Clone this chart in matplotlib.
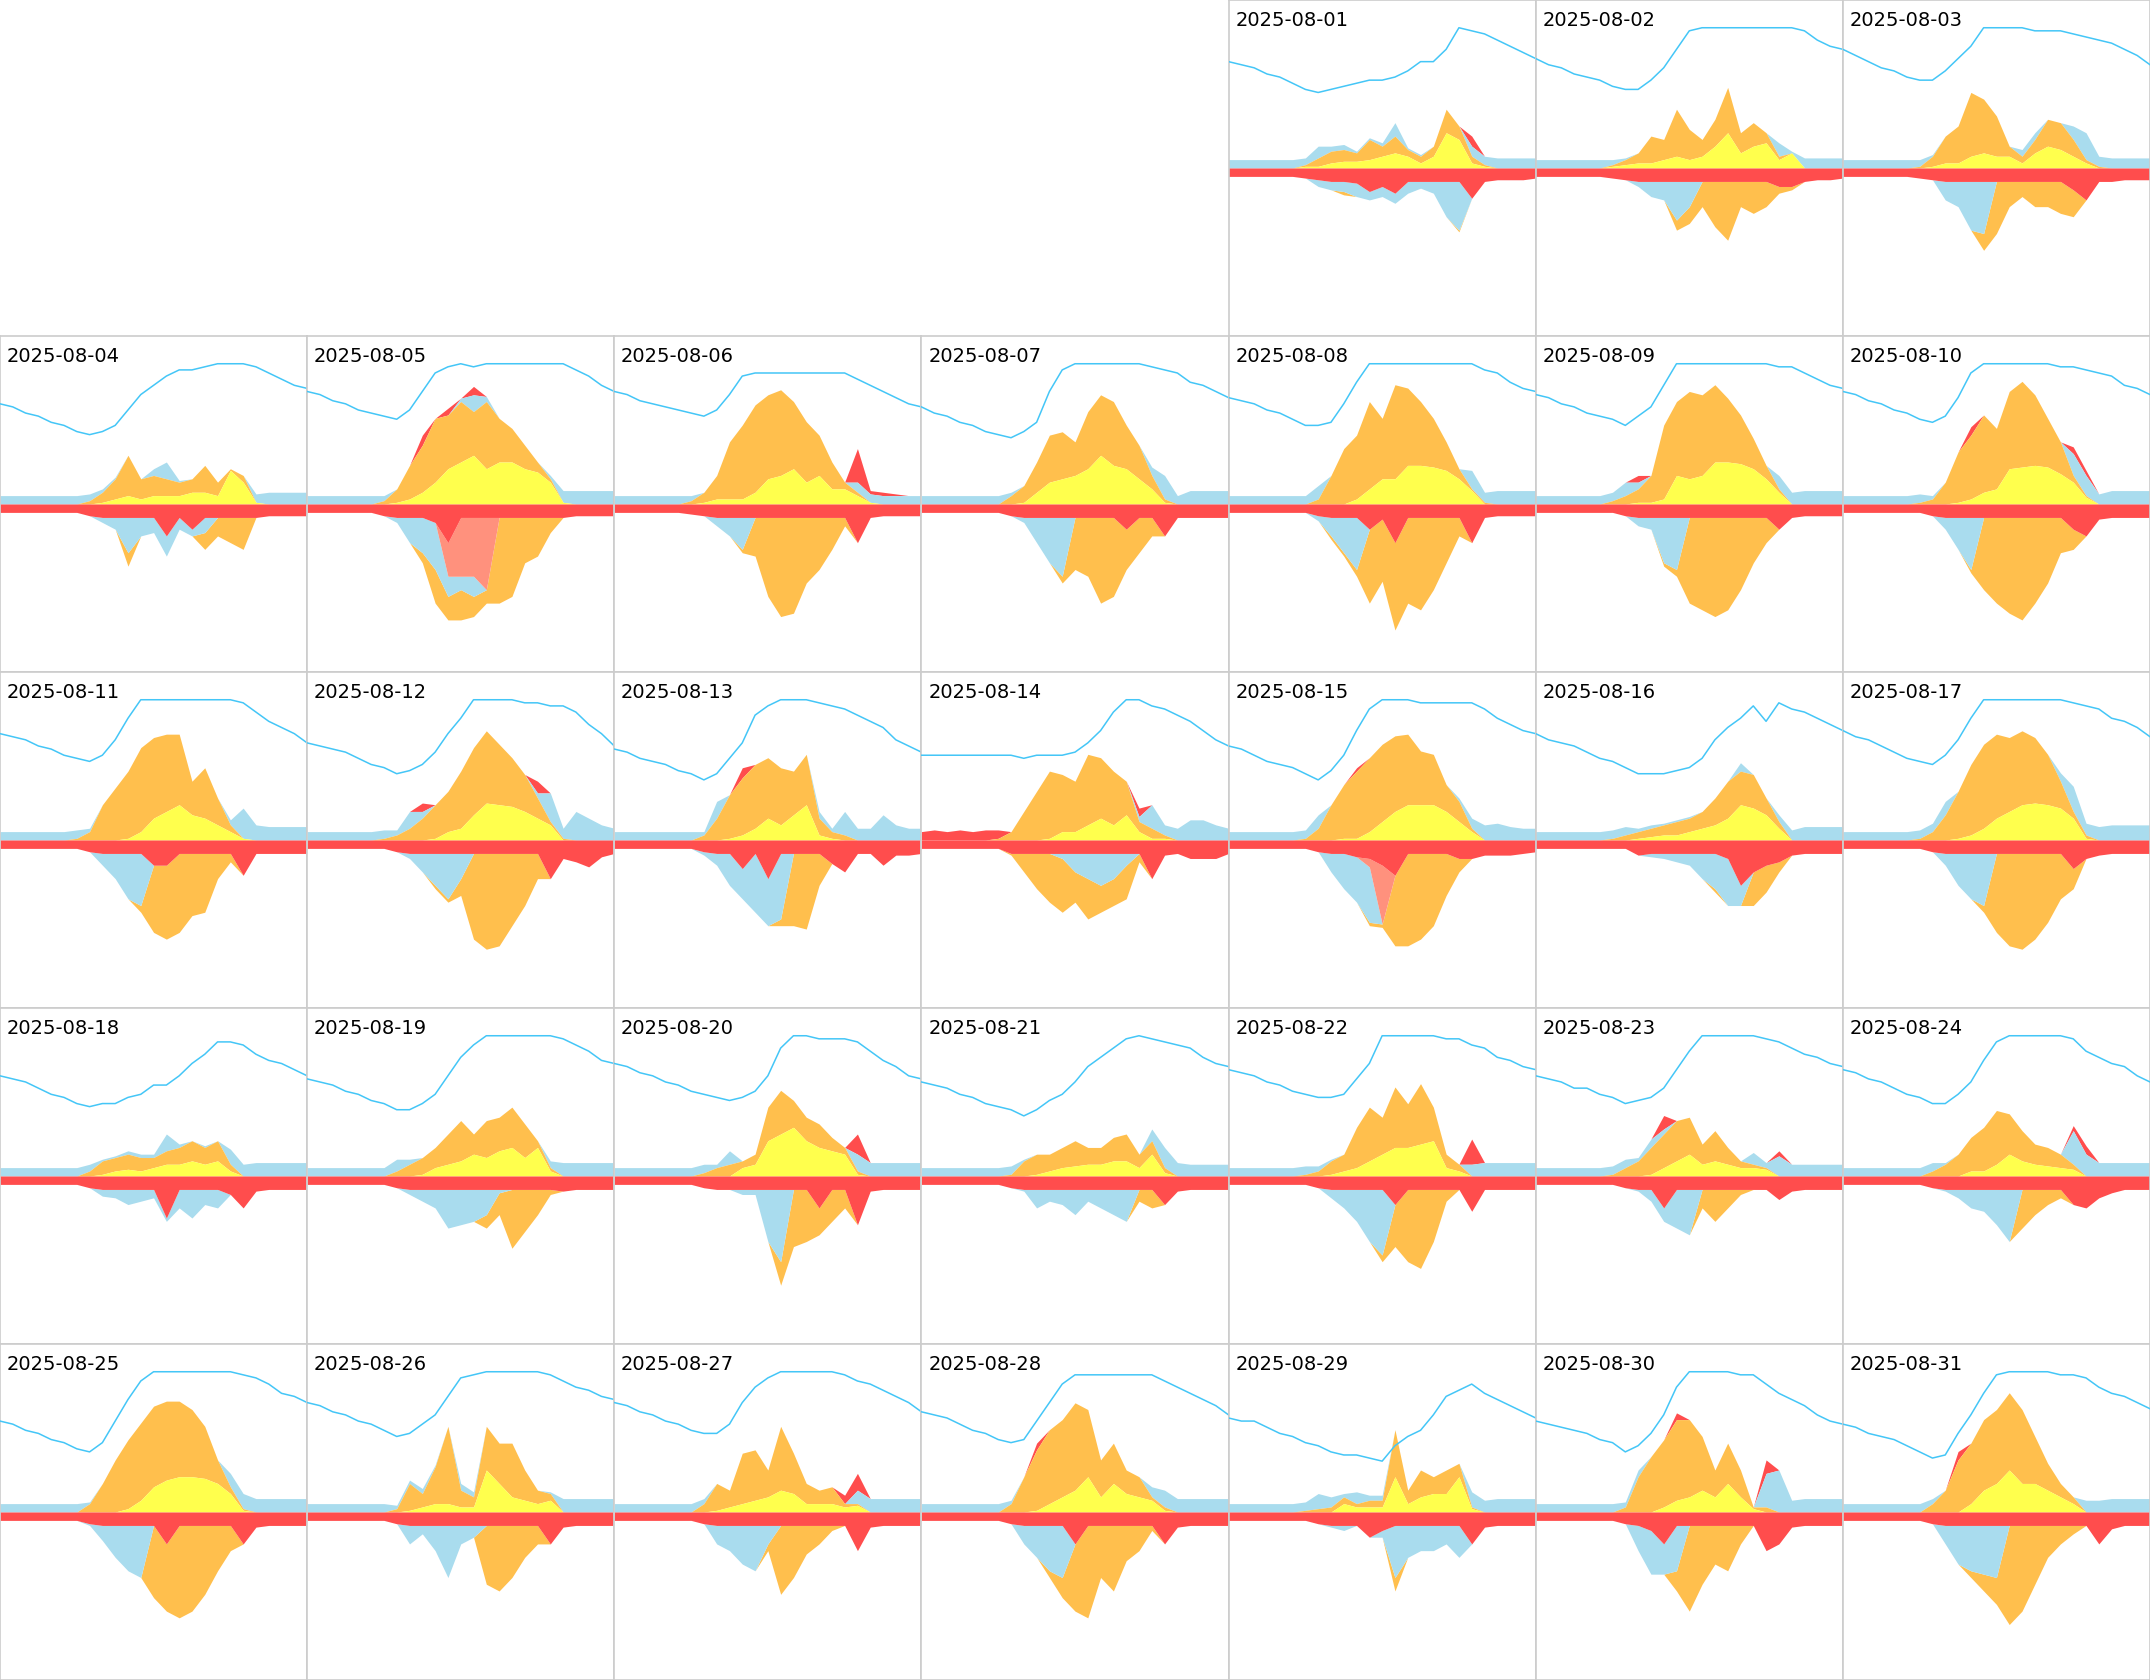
import numpy as np
import matplotlib
matplotlib.use("Agg")
import matplotlib.pyplot as plt

# Daily energy flow panels, August 2025 (hourly readings, 0..24 h)
dates = [f"2025-08-{d:02d}" for d in range(1, 32)]

# battery state of charge (%) at each hour 0..24
soc = [
    [89, 88, 87, 85, 84, 82, 80, 79, 80, 81, 82, 83, 83, 84, 86, 89, 89, 93, 100, 99, 98, 96, 94, 92, 90],
    [90, 88, 87, 85, 84, 83, 81, 80, 80, 83, 87, 93, 99, 100, 100, 100, 100, 100, 100, 100, 100, 99, 96, 94, 93],
    [93, 91, 89, 87, 86, 84, 83, 83, 86, 90, 94, 100, 100, 100, 100, 99, 99, 99, 98, 97, 96, 95, 93, 91, 88],
    [87, 86, 84, 83, 81, 80, 78, 77, 78, 80, 85, 90, 93, 96, 98, 98, 99, 100, 100, 100, 99, 97, 95, 93, 92],
    [91, 90, 88, 87, 85, 84, 83, 82, 85, 91, 97, 99, 100, 99, 100, 100, 100, 100, 100, 100, 100, 98, 96, 93, 91],
    [91, 90, 88, 87, 86, 85, 84, 83, 85, 90, 96, 97, 97, 97, 97, 97, 97, 97, 97, 95, 93, 91, 89, 87, 86],
    [86, 84, 83, 81, 80, 78, 77, 76, 78, 81, 91, 98, 100, 100, 100, 100, 100, 100, 99, 98, 97, 94, 93, 91, 89],
    [89, 88, 87, 85, 84, 82, 80, 80, 81, 87, 94, 100, 100, 100, 100, 100, 100, 100, 100, 100, 98, 97, 94, 92, 91],
    [90, 89, 87, 86, 84, 83, 82, 80, 83, 86, 93, 100, 100, 100, 100, 100, 100, 100, 100, 99, 99, 97, 95, 93, 92],
    [91, 90, 88, 87, 85, 84, 82, 81, 83, 89, 97, 100, 100, 100, 100, 100, 100, 99, 99, 98, 97, 96, 93, 92, 90],
    [89, 88, 87, 85, 84, 82, 81, 80, 82, 87, 94, 100, 100, 100, 100, 100, 100, 100, 100, 99, 96, 93, 91, 89, 86],
    [86, 85, 84, 83, 81, 79, 78, 76, 77, 79, 83, 89, 94, 100, 100, 100, 100, 99, 99, 98, 98, 96, 92, 89, 85],
    [84, 83, 81, 80, 79, 77, 76, 74, 76, 81, 86, 95, 98, 100, 100, 100, 99, 98, 97, 95, 93, 91, 87, 85, 83],
    [82, 82, 82, 82, 82, 82, 82, 82, 81, 82, 82, 82, 83, 86, 90, 96, 100, 100, 98, 97, 95, 93, 90, 87, 85],
    [85, 84, 82, 80, 79, 78, 76, 74, 77, 82, 90, 97, 100, 100, 100, 99, 99, 99, 99, 99, 97, 94, 92, 90, 89],
    [89, 87, 86, 85, 83, 81, 80, 78, 76, 76, 76, 77, 78, 81, 87, 91, 94, 98, 93, 99, 97, 96, 94, 92, 90],
    [90, 88, 87, 85, 83, 81, 80, 79, 82, 87, 94, 100, 100, 100, 100, 100, 100, 100, 99, 98, 97, 94, 93, 91, 88],
    [87, 86, 85, 83, 81, 80, 78, 77, 78, 78, 80, 81, 84, 84, 87, 91, 94, 98, 98, 97, 94, 92, 91, 89, 87],
    [86, 85, 84, 82, 81, 79, 78, 76, 76, 78, 81, 87, 93, 97, 100, 100, 100, 100, 100, 100, 99, 97, 95, 92, 91],
    [91, 90, 88, 87, 85, 84, 82, 81, 80, 79, 80, 82, 87, 96, 100, 100, 99, 99, 99, 98, 95, 92, 90, 87, 86],
    [85, 84, 83, 81, 80, 78, 77, 76, 74, 76, 79, 81, 85, 90, 93, 96, 99, 100, 99, 98, 97, 96, 93, 91, 90],
    [89, 88, 87, 85, 84, 82, 81, 80, 80, 81, 86, 91, 100, 100, 100, 100, 100, 99, 99, 97, 96, 93, 92, 90, 89],
    [87, 86, 85, 83, 83, 81, 80, 78, 79, 80, 83, 89, 95, 100, 100, 100, 100, 100, 99, 98, 96, 94, 93, 91, 90],
    [89, 88, 86, 85, 83, 81, 80, 78, 78, 81, 85, 92, 98, 100, 100, 100, 100, 100, 99, 95, 93, 91, 90, 87, 85],
    [84, 83, 81, 80, 78, 77, 75, 74, 77, 84, 91, 97, 100, 100, 100, 100, 100, 100, 100, 99, 98, 96, 93, 92, 90],
    [90, 89, 87, 86, 84, 83, 81, 79, 80, 83, 86, 92, 98, 99, 100, 100, 100, 100, 100, 99, 97, 95, 94, 92, 91],
    [90, 89, 87, 86, 84, 83, 81, 80, 80, 83, 90, 95, 98, 100, 100, 100, 100, 100, 99, 97, 96, 94, 92, 90, 87],
    [87, 86, 85, 83, 81, 80, 78, 77, 78, 84, 90, 96, 99, 99, 99, 99, 99, 99, 99, 97, 95, 93, 91, 89, 86],
    [85, 84, 84, 82, 80, 79, 77, 76, 74, 73, 73, 72, 71, 76, 79, 81, 86, 92, 94, 96, 93, 91, 89, 87, 85],
    [84, 83, 82, 81, 80, 78, 77, 74, 76, 80, 86, 95, 100, 100, 100, 100, 99, 99, 96, 93, 91, 89, 86, 84, 83],
    [83, 82, 80, 79, 78, 76, 74, 72, 73, 80, 86, 93, 99, 100, 100, 100, 100, 99, 99, 98, 95, 93, 92, 90, 88],
]

# solar string 1 (yellow), kW, hours 5..21
pv_west = [
    [0, 0.1, 0.1, 0.3, 0.4, 0.4, 0.5, 0.7, 0.9, 0.7, 0.3, 0.7, 2.1, 1.7, 0.3, 0.1, 0],
    [0, 0.1, 0.2, 0.3, 0.3, 0.5, 0.7, 0.5, 0.7, 1.3, 2.1, 0.9, 1.3, 1.5, 0.5, 0.9, 0],
    [0, 0, 0.1, 0.3, 0.3, 0.7, 0.9, 0.7, 0.7, 0.3, 0.9, 1.3, 1.1, 0.7, 0.3, 0, 0],
    [0, 0, 0, 0.1, 0.3, 0.5, 0.3, 0.5, 0.5, 0.5, 0.7, 0.7, 0.5, 2.0, 1.3, 0.1, 0],
    [0, 0, 0.1, 0.3, 0.7, 1.3, 2.1, 2.5, 2.9, 2.1, 2.5, 2.5, 2.1, 1.9, 1.3, 0.1, 0],
    [0, 0, 0.1, 0.3, 0.3, 0.3, 0.7, 1.5, 1.7, 2.1, 1.3, 1.7, 0.9, 0.9, 0.5, 0.1, 0],
    [0, 0, 0, 0.1, 0.7, 1.3, 1.5, 1.7, 2.1, 2.9, 2.3, 2.1, 1.5, 0.9, 0.1, 0, 0],
    [0, 0, 0, 0, 0, 0.3, 0.9, 1.5, 1.5, 2.3, 2.3, 2.2, 2.0, 1.5, 0.8, 0, 0],
    [0, 0, 0, 0.1, 0.1, 0.3, 1.7, 1.5, 1.7, 2.5, 2.5, 2.4, 2.1, 1.5, 0.7, 0, 0],
    [0, 0, 0, 0, 0.1, 0.3, 0.7, 0.9, 2.1, 2.2, 2.3, 2.2, 1.8, 1.3, 0.4, 0, 0],
    [0, 0, 0, 0, 0, 0.1, 0.5, 1.3, 1.7, 2.1, 1.5, 1.3, 0.9, 0.5, 0.1, 0, 0],
    [0, 0, 0, 0, 0, 0.1, 0.5, 0.7, 1.5, 2.2, 2.1, 2.0, 1.7, 1.3, 0.9, 0, 0],
    [0, 0, 0, 0, 0.1, 0.3, 0.7, 1.3, 0.9, 1.5, 2.1, 0.3, 0.1, 0, 0, 0, 0],
    [0, 0, 0, 0, 0, 0.1, 0.5, 0.5, 0.9, 1.3, 0.9, 1.5, 0.5, 0.1, 0.1, 0, 0],
    [0, 0, 0, 0, 0.1, 0.1, 0.5, 1.1, 1.7, 2.1, 2.1, 2.1, 1.7, 1.1, 0.5, 0, 0],
    [0, 0, 0, 0.1, 0.2, 0.3, 0.3, 0.5, 0.7, 0.9, 1.3, 2.1, 1.9, 1.5, 0.7, 0, 0],
    [0, 0, 0, 0, 0.1, 0.3, 0.7, 1.3, 1.7, 2.1, 2.2, 2.1, 1.9, 1.3, 0.1, 0, 0],
    [0, 0, 0, 0.1, 0.3, 0.4, 0.3, 0.5, 0.7, 0.7, 0.9, 0.7, 0.9, 0.3, 0, 0, 0],
    [0, 0, 0, 0, 0.1, 0.5, 0.7, 0.9, 1.3, 1.1, 1.5, 1.7, 1.1, 1.7, 0.3, 0, 0],
    [0, 0, 0, 0, 0, 0.5, 0.7, 2.1, 2.5, 2.9, 2.1, 1.7, 1.5, 1.3, 0.1, 0, 0],
    [0, 0, 0, 0, 0.1, 0.3, 0.5, 0.6, 0.7, 0.7, 0.9, 0.9, 0.5, 1.3, 0.2, 0, 0],
    [0, 0, 0, 0.1, 0.3, 0.5, 0.9, 1.3, 1.7, 1.7, 1.9, 2.1, 0.5, 0.3, 0, 0, 0],
    [0, 0, 0, 0, 0.1, 0.5, 0.9, 1.3, 0.7, 0.9, 0.7, 0.5, 0.5, 0.4, 0, 0, 0],
    [0, 0, 0, 0, 0, 0.3, 0.3, 0.7, 1.3, 0.9, 0.7, 0.6, 0.5, 0.4, 0, 0, 0],
    [0, 0, 0, 0, 0, 0.2, 0.7, 1.5, 1.9, 2.1, 2.1, 2.0, 1.7, 1.1, 0.1, 0, 0],
    [0, 0, 0, 0.1, 0.3, 0.5, 0.5, 0.3, 0.3, 2.5, 1.7, 0.9, 0.7, 0.5, 0.7, 0, 0],
    [0, 0, 0, 0.1, 0.3, 0.5, 0.7, 0.9, 1.3, 1.1, 0.5, 0.5, 0.5, 0.3, 0.4, 0, 0],
    [0, 0, 0, 0, 0.1, 0.5, 0.9, 1.3, 2.1, 0.9, 1.7, 1.1, 0.9, 0.7, 0.1, 0, 0],
    [0, 0, 0, 0, 0.5, 0.3, 0.3, 0.3, 2.1, 0.5, 0.9, 1.1, 1.1, 2.1, 0.2, 0, 0],
    [0, 0, 0, 0, 0, 0.3, 0.7, 0.9, 1.3, 0.9, 1.7, 0.9, 0.2, 0, 0, 0, 0],
    [0, 0, 0, 0, 0, 0.5, 1.3, 1.7, 2.5, 1.7, 1.7, 1.3, 0.9, 0.5, 0, 0, 0],
]

# solar string 2 (orange), kW, hours 5..21
pv_east = [
    [0, 0.1, 0.5, 0.7, 0.7, 0.5, 1.2, 0.6, 1.0, 0.4, 0.4, 0.6, 1.4, 0.8, 0.4, 0.1, 0],
    [0, 0.1, 0.3, 0.6, 1.6, 1.2, 2.8, 1.8, 1.0, 1.6, 2.7, 1.2, 1.4, 0.6, 0.2, 0, 0],
    [0, 0.1, 0.6, 1.6, 2.2, 3.8, 3.2, 2.4, 0.6, 0.4, 0.8, 1.6, 1.6, 1.0, 0.2, 0.1, 0],
    [0, 0, 0.2, 0.6, 1.2, 2.4, 1.2, 1.2, 1.0, 0.8, 0.8, 1.6, 0.8, 0.1, 0.4, 0, 0],
    [0, 0.2, 0.8, 2.0, 2.8, 3.8, 3.2, 3.6, 2.6, 4.0, 2.6, 2.0, 1.4, 0.6, 0.2, 0, 0],
    [0, 0.2, 0.6, 1.4, 3.4, 4.4, 5.2, 5.0, 5.1, 4.0, 3.6, 2.4, 1.6, 0.4, 0.2, 0, 0],
    [0, 0, 0.5, 1.0, 1.8, 2.8, 2.8, 2.0, 3.4, 3.6, 3.8, 2.6, 2.0, 0.8, 0.2, 0, 0],
    [0, 0, 0.3, 1.7, 3.3, 3.8, 5.2, 3.6, 5.6, 4.6, 3.8, 2.9, 1.7, 0.6, 0.1, 0.1, 0],
    [0, 0.2, 0.5, 0.8, 1.6, 4.4, 4.4, 5.2, 4.8, 4.6, 3.8, 2.9, 1.8, 0.8, 0.2, 0, 0],
    [0, 0.1, 0.3, 1.3, 3.0, 3.8, 4.6, 3.6, 4.6, 5.1, 4.2, 2.9, 1.9, 0.4, 0.1, 0, 0],
    [0, 0.1, 0.5, 2.1, 3.1, 4.0, 5.0, 4.8, 4.6, 4.2, 2.0, 3.0, 1.6, 0.4, 0, 0, 0],
    [0, 0.1, 0.3, 0.7, 1.3, 2.0, 2.4, 3.4, 4.0, 4.3, 3.6, 2.9, 2.2, 1.2, 0.2, 0.1, 0],
    [0, 0, 0.3, 1.3, 2.6, 3.4, 3.8, 3.6, 3.4, 2.6, 3.0, 1.0, 0.4, 0.3, 0, 0, 0],
    [0, 0.1, 0.5, 1.7, 2.9, 4.0, 3.4, 3.0, 4.2, 3.6, 3.2, 2.0, 0.6, 0.6, 0.2, 0, 0],
    [0, 0.1, 0.7, 2.1, 3.2, 4.0, 4.4, 4.6, 4.5, 4.2, 3.2, 3.0, 1.6, 1.2, 0.2, 0, 0],
    [0, 0.1, 0.3, 0.4, 0.5, 0.6, 0.8, 0.8, 1.0, 1.6, 2.2, 2.0, 2.0, 1.0, 0.4, 0, 0],
    [0, 0.1, 0.5, 1.5, 2.8, 4.2, 5.0, 5.0, 4.4, 4.4, 3.9, 3.0, 1.6, 0.4, 0.2, 0, 0],
    [0, 0, 0.3, 0.8, 0.8, 0.9, 0.8, 0.6, 0.8, 1.0, 1.2, 1.0, 1.2, 0.4, 0, 0, 0],
    [0, 0, 0.3, 0.7, 1.0, 1.2, 1.8, 2.4, 1.2, 2.2, 2.0, 2.4, 2.0, 0.4, 0.2, 0, 0],
    [0, 0, 0.2, 0.5, 0.7, 0.4, 0.6, 2.0, 2.6, 1.6, 1.4, 1.4, 0.8, 0.4, 0.2, 0, 0],
    [0, 0, 0.1, 0.9, 1.2, 1.0, 1.2, 1.5, 1.0, 1.0, 1.4, 1.6, 0.8, 0.8, 0.3, 0, 0],
    [0, 0.1, 0.3, 0.8, 1.0, 2.4, 3.2, 2.2, 3.6, 2.6, 3.6, 2.0, 0.8, 0.4, 0, 0, 0],
    [0, 0.1, 0.5, 0.9, 1.6, 2.0, 2.4, 2.2, 1.2, 1.8, 1.0, 0.4, 0.2, 0.1, 0, 0, 0],
    [0, 0, 0.3, 0.7, 1.3, 2.0, 2.6, 3.2, 2.4, 1.8, 1.2, 1.1, 0.8, 0.3, 0, 0, 0],
    [0, 0, 0.5, 1.7, 3.1, 4.1, 4.6, 4.8, 4.7, 4.5, 4.0, 3.1, 1.4, 0.4, 0.1, 0, 0],
    [0, 0, 0.2, 1.6, 0.8, 2.2, 4.6, 1.0, 0.6, 2.6, 2.4, 3.2, 1.8, 0.8, 0.4, 0, 0],
    [0, 0, 0.5, 1.6, 1.0, 3.0, 3.0, 1.6, 3.8, 2.4, 1.2, 0.8, 1.0, 0.2, 0.1, 0, 0],
    [0, 0, 0.5, 2.1, 3.6, 4.4, 4.6, 5.2, 4.0, 2.2, 2.4, 1.4, 1.2, 0.2, 0.2, 0, 0],
    [0, 0.1, 0.2, 0.3, 0.4, 0.2, 0.4, 0.4, 2.8, 0.8, 1.6, 1.0, 1.4, 0.8, 0.1, 0, 0],
    [0, 0, 0.3, 2.1, 3.3, 4.0, 4.8, 4.6, 3.2, 1.6, 2.4, 1.6, 0.1, 0.3, 0, 0, 0],
    [0, 0, 0.5, 1.3, 3.1, 3.6, 4.2, 4.4, 4.6, 4.4, 2.8, 1.6, 0.8, 0.4, 0, 0, 0],
]

# battery discharge (light blue, up), kW, hours 0..24
batt_out = [
    [0.5, 0.5, 0.5, 0.5, 0.5, 0.5, 0.4, 0.7, 0.3, 0.3, 0.1, 0.1, 0.2, 0.8, 0.1, 0.1, 0, 0, 0, 0.6, 0.5, 0.6, 0.6, 0.6, 0.6],
    [0.5, 0.5, 0.5, 0.5, 0.5, 0.5, 0.3, 0.1, 0, 0, 0, 0, 0, 0, 0, 0, 0, 0, 0, 0.8, 0.1, 0.6, 0.6, 0.6, 0.6],
    [0.5, 0.5, 0.5, 0.5, 0.5, 0.5, 0.4, 0.1, 0, 0, 0, 0, 0, 0, 0.4, 0.4, 0, 0, 0.8, 1.6, 0.6, 0.6, 0.6, 0.6, 0.6],
    [0.5, 0.5, 0.5, 0.5, 0.5, 0.5, 0.5, 0.4, 0.2, 0.1, 0, 0, 0.4, 1.0, 0.1, 0, 0, 0, 0, 0, 0.5, 0.7, 0.7, 0.7, 0.7],
    [0.5, 0.5, 0.5, 0.5, 0.5, 0.5, 0.3, 0, 0, 0, 0, 0, 0.2, 1.0, 0.3, 0, 0, 0, 0, 0.2, 0.7, 0.8, 0.8, 0.8, 0.8],
    [0.5, 0.5, 0.5, 0.5, 0.5, 0.5, 0.3, 0, 0, 0, 0, 0, 0, 0, 0, 0, 0, 0, 0, 0.6, 0.5, 0.5, 0.5, 0.5, 0.5],
    [0.5, 0.5, 0.5, 0.5, 0.5, 0.5, 0.5, 0.2, 0, 0, 0, 0, 0, 0, 0, 0, 0, 0, 0.5, 1.4, 0.5, 0.8, 0.8, 0.8, 0.8],
    [0.5, 0.5, 0.5, 0.5, 0.5, 0.5, 0.5, 0.8, 0, 0, 0, 0, 0, 0, 0, 0, 0, 0, 0, 1.1, 0.6, 0.8, 0.8, 0.8, 0.8],
    [0.5, 0.5, 0.5, 0.5, 0.5, 0.5, 0.5, 0.8, 0.4, 0, 0, 0, 0, 0, 0, 0, 0, 0, 0, 0.8, 0.7, 0.8, 0.8, 0.8, 0.8],
    [0.5, 0.5, 0.5, 0.5, 0.5, 0.5, 0.5, 0.2, 0, 0, 0, 0, 0, 0, 0, 0, 0, 0, 1.3, 1.2, 0.6, 0.8, 0.8, 0.8, 0.8],
    [0.5, 0.5, 0.5, 0.5, 0.5, 0.5, 0.5, 0.2, 0, 0, 0, 0, 0, 0, 0, 0, 0, 0, 0.3, 1.8, 0.9, 0.8, 0.8, 0.8, 0.8],
    [0.5, 0.5, 0.5, 0.5, 0.5, 0.5, 0.5, 0.3, 1.0, 0.4, 0, 0, 0, 0, 0, 0, 0, 0, 0.3, 1.7, 0.6, 1.7, 1.3, 0.9, 0.7],
    [0.5, 0.5, 0.5, 0.5, 0.5, 0.5, 0.5, 0.2, 1.0, 0, 0, 0, 0, 0, 0, 0, 0.4, 0.2, 1.4, 0.7, 0.7, 1.5, 0.9, 0.7, 0.7],
    [0, 0, 0, 0, 0, 0, 0, 0, 0, 0, 0, 0, 0, 0, 0, 0, 0, 0.3, 1.4, 0.6, 0.7, 1.2, 1.2, 0.9, 0.7],
    [0.5, 0.5, 0.5, 0.5, 0.5, 0.5, 0.5, 0.8, 0, 0, 0, 0, 0, 0, 0, 0, 0, 0, 0.2, 0.6, 0.9, 1.0, 0.8, 0.7, 0.7],
    [0.5, 0.5, 0.5, 0.5, 0.5, 0.5, 0.5, 0.5, 0.2, 0.2, 0.1, 0.1, 0.1, 0, 0, 0, 0.5, 0, 0, 0.4, 0.6, 0.8, 0.8, 0.8, 0.8],
    [0.5, 0.5, 0.5, 0.5, 0.5, 0.5, 0.5, 0.5, 0.8, 0, 0, 0, 0, 0, 0, 0, 0, 0.5, 1.5, 0.7, 0.8, 0.9, 0.9, 0.9, 0.9],
    [0.5, 0.5, 0.5, 0.5, 0.5, 0.5, 0.5, 0.4, 0.1, 0.1, 0.2, 0.2, 0.2, 1.0, 0.2, 0, 0.1, 0, 0.9, 0.7, 0.8, 0.8, 0.8, 0.8, 0.8],
    [0.5, 0.5, 0.5, 0.5, 0.5, 0.5, 0.5, 0.7, 0.3, 0, 0, 0, 0, 0, 0, 0, 0, 0, 0, 0.4, 0.8, 0.8, 0.8, 0.8, 0.8],
    [0.5, 0.5, 0.5, 0.5, 0.5, 0.5, 0.5, 0.5, 0.2, 0.8, 0, 0, 0, 0, 0, 0, 0, 0, 0, 1.0, 0.8, 0.8, 0.8, 0.8, 0.8],
    [0.5, 0.5, 0.5, 0.5, 0.5, 0.5, 0.5, 0.5, 0.1, 0, 0, 0, 0, 0, 0, 0, 0, 0, 0.7, 1.2, 0.8, 0.7, 0.7, 0.7, 0.7],
    [0.5, 0.5, 0.5, 0.5, 0.5, 0.5, 0.5, 0.3, 0.1, 0, 0, 0, 0, 0, 0, 0, 0, 0, 0, 0.7, 0.8, 0.8, 0.8, 0.8, 0.8],
    [0.5, 0.5, 0.5, 0.5, 0.5, 0.5, 0.5, 0.5, 0.2, 0.5, 0.3, 0, 0, 0, 0, 0, 0, 0.7, 0.3, 1.2, 0.7, 0.7, 0.7, 0.7, 0.7],
    [0.5, 0.5, 0.5, 0.5, 0.5, 0.5, 0.5, 0.5, 0.1, 0, 0, 0, 0, 0, 0, 0, 0, 0, 2.0, 1.3, 0.8, 0.8, 0.8, 0.8, 0.8],
    [0.5, 0.5, 0.5, 0.5, 0.5, 0.5, 0.5, 0.1, 0, 0, 0, 0, 0, 0, 0, 0, 0, 0, 0.8, 0.9, 0.8, 0.8, 0.8, 0.8, 0.8],
    [0.5, 0.5, 0.5, 0.5, 0.5, 0.5, 0.5, 0.2, 0.2, 0.3, 0.1, 0, 0.4, 0.3, 0, 0, 0, 0, 0, 0.1, 0.8, 0.8, 0.8, 0.8, 0.8],
    [0.5, 0.5, 0.5, 0.5, 0.5, 0.5, 0.5, 0.3, 0, 0, 0, 0, 0, 0, 0, 0, 0, 0, 0, 0.8, 0.8, 0.8, 0.8, 0.8, 0.8],
    [0.5, 0.5, 0.5, 0.5, 0.5, 0.5, 0.5, 0.2, 0, 0, 0, 0, 0, 0, 0, 0, 0, 0, 0.6, 1.0, 0.8, 0.8, 0.8, 0.8, 0.8],
    [0.5, 0.5, 0.5, 0.5, 0.5, 0.5, 0.5, 0.9, 0.6, 0.2, 0.7, 0.3, 0.3, 0, 0, 0, 0, 0, 0, 0.9, 0.7, 0.8, 0.8, 0.8, 0.8],
    [0.5, 0.5, 0.5, 0.5, 0.5, 0.5, 0.5, 0.3, 0.4, 0, 0, 0, 0, 0, 0, 0, 0, 0, 2.0, 2.5, 0.7, 0.8, 0.8, 0.8, 0.8],
    [0.5, 0.5, 0.5, 0.5, 0.5, 0.5, 0.5, 0.3, 0, 0, 0, 0, 0, 0, 0, 0, 0, 0, 0, 0.7, 0.7, 0.8, 0.8, 0.8, 0.8],
]

# grid import (red, up), kW, hours 0..24 - only days where it shows
grid_in = {
    "2025-08-01": [0, 0, 0, 0, 0, 0, 0, 0, 0, 0, 0, 0, 0, 0, 0, 0, 0, 0, 0, 0.6, 0, 0, 0, 0, 0],
    "2025-08-05": [0, 0, 0, 0, 0, 0, 0, 0, 0, 0.6, 0, 0.4, 0, 0.5, 0, 0, 0, 0, 0, 0, 0, 0, 0, 0, 0],
    "2025-08-06": [0, 0, 0, 0, 0, 0, 0, 0, 0, 0, 0, 0, 0, 0, 0, 0, 0, 0, 0, 2.0, 0.2, 0.2, 0.1, 0, 0],
    "2025-08-09": [0, 0, 0, 0, 0, 0, 0, 0, 0.4, 0, 0, 0, 0, 0, 0, 0, 0, 0, 0, 0, 0, 0, 0, 0, 0],
    "2025-08-10": [0, 0, 0, 0, 0, 0, 0, 0, 0, 0, 0.5, 0, 0, 0, 0, 0, 0, 0, 0.4, 0.3, 0, 0, 0, 0, 0],
    "2025-08-12": [0, 0, 0, 0, 0, 0, 0, 0, 0, 0.5, 0, 0, 0, 0, 0, 0, 0, 0, 0.7, 0, 0, 0, 0, 0, 0],
    "2025-08-13": [0, 0, 0, 0, 0, 0, 0, 0, 0, 0, 0.6, 0, 0, 0, 0, 0, 0, 0, 0, 0, 0, 0, 0, 0, 0],
    "2025-08-14": [0.5, 0.6, 0.5, 0.6, 0.5, 0.6, 0.5, 0, 0, 0, 0, 0, 0, 0, 0, 0, 0, 0.5, 0, 0, 0, 0, 0, 0, 0],
    "2025-08-15": [0, 0, 0, 0, 0, 0, 0, 0, 0, 0, 0.2, 0, 0, 0, 0, 0, 0, 0, 0, 0, 0, 0, 0, 0, 0],
    "2025-08-20": [0, 0, 0, 0, 0, 0, 0, 0, 0, 0, 0, 0, 0, 0, 0, 0, 0, 0, 0, 1.2, 0, 0, 0, 0, 0],
    "2025-08-22": [0, 0, 0, 0, 0, 0, 0, 0, 0, 0, 0, 0, 0, 0, 0, 0, 0, 0, 0, 1.5, 0, 0, 0, 0, 0],
    "2025-08-23": [0, 0, 0, 0, 0, 0, 0, 0, 0, 0, 0.8, 0, 0, 0, 0, 0, 0, 0, 0, 0.3, 0, 0, 0, 0, 0],
    "2025-08-24": [0, 0, 0, 0, 0, 0, 0, 0, 0, 0, 0, 0, 0, 0, 0, 0, 0, 0, 0.3, 0.5, 0, 0, 0, 0, 0],
    "2025-08-27": [0, 0, 0, 0, 0, 0, 0, 0, 0, 0, 0, 0, 0, 0, 0, 0, 0, 0, 0.5, 1.0, 0, 0, 0, 0, 0],
    "2025-08-28": [0, 0, 0, 0, 0, 0, 0, 0, 0, 0.4, 0, 0, 0, 0, 0, 0, 0, 0, 0, 0, 0, 0, 0, 0, 0],
    "2025-08-30": [0, 0, 0, 0, 0, 0, 0, 0, 0, 0, 0, 0.4, 0, 0, 0, 0, 0, 0, 0.8, 0, 0, 0, 0, 0, 0],
    "2025-08-31": [0, 0, 0, 0, 0, 0, 0, 0, 0, 0.5, 0, 0, 0, 0, 0, 0, 0, 0, 0, 0, 0, 0, 0, 0, 0],
}

# house consumption (red, down), kW, hours 0..24
house = [
    [0.5, 0.5, 0.5, 0.5, 0.5, 0.5, 0.6, 0.7, 0.8, 0.8, 0.9, 1.4, 1.1, 1.5, 0.8, 0.8, 0.8, 0.8, 0.8, 1.8, 0.8, 0.7, 0.7, 0.7, 0.6],
    [0.5, 0.5, 0.5, 0.5, 0.5, 0.5, 0.6, 0.7, 0.8, 0.8, 0.8, 0.8, 0.8, 0.8, 0.8, 0.8, 0.8, 0.8, 0.8, 1.1, 1.1, 0.8, 0.7, 0.7, 0.6],
    [0.5, 0.5, 0.5, 0.5, 0.5, 0.5, 0.6, 0.7, 0.8, 0.8, 0.8, 0.8, 0.8, 0.8, 0.8, 0.8, 0.8, 0.8, 1.3, 1.9, 0.8, 0.8, 0.7, 0.7, 0.7],
    [0.5, 0.5, 0.5, 0.5, 0.5, 0.5, 0.5, 0.7, 0.8, 0.8, 0.8, 0.8, 0.8, 1.9, 0.8, 1.5, 0.8, 0.8, 0.8, 0.8, 0.8, 0.7, 0.7, 0.7, 0.7],
    [0.5, 0.5, 0.5, 0.5, 0.5, 0.5, 0.7, 0.8, 0.8, 0.8, 1.1, 2.3, 0.8, 0.8, 0.8, 0.8, 0.8, 0.8, 0.8, 0.8, 0.8, 0.7, 0.7, 0.7, 0.7],
    [0.5, 0.5, 0.5, 0.5, 0.5, 0.5, 0.6, 0.7, 0.8, 0.8, 0.8, 0.8, 0.8, 0.8, 0.8, 0.8, 0.8, 0.8, 0.8, 2.3, 0.8, 0.7, 0.7, 0.7, 0.7],
    [0.5, 0.5, 0.5, 0.5, 0.5, 0.5, 0.5, 0.7, 0.8, 0.8, 0.8, 0.8, 0.8, 0.8, 0.8, 0.8, 1.5, 0.8, 0.8, 1.9, 0.8, 0.8, 0.8, 0.8, 0.8],
    [0.5, 0.5, 0.5, 0.5, 0.5, 0.5, 0.5, 0.7, 0.8, 0.8, 0.8, 1.5, 0.9, 2.3, 0.8, 0.8, 0.8, 0.8, 0.8, 2.3, 0.8, 0.7, 0.7, 0.7, 0.7],
    [0.5, 0.5, 0.5, 0.5, 0.5, 0.5, 0.5, 0.7, 0.8, 0.8, 0.8, 0.8, 0.8, 0.8, 0.8, 0.8, 0.8, 0.8, 0.8, 1.5, 0.8, 0.7, 0.7, 0.7, 0.7],
    [0.5, 0.5, 0.5, 0.5, 0.5, 0.5, 0.5, 0.7, 0.8, 0.8, 0.8, 0.8, 0.8, 0.8, 0.8, 0.8, 0.8, 0.8, 1.5, 1.9, 0.9, 0.8, 0.8, 0.8, 0.8],
    [0.5, 0.5, 0.5, 0.5, 0.5, 0.5, 0.5, 0.7, 0.8, 0.8, 0.8, 0.8, 1.5, 1.5, 0.8, 0.8, 0.8, 0.8, 0.8, 2.1, 0.8, 0.8, 0.8, 0.8, 0.8],
    [0.5, 0.5, 0.5, 0.5, 0.5, 0.5, 0.5, 0.7, 0.8, 0.8, 0.8, 0.8, 0.8, 0.8, 0.8, 0.8, 0.8, 0.8, 0.8, 2.3, 1.1, 1.3, 1.6, 1.0, 0.8],
    [0.5, 0.5, 0.5, 0.5, 0.5, 0.5, 0.5, 0.7, 0.8, 0.8, 1.7, 0.8, 2.3, 0.8, 0.8, 0.8, 0.8, 1.4, 1.9, 0.8, 0.8, 1.5, 0.9, 0.9, 0.8],
    [0.5, 0.5, 0.5, 0.5, 0.5, 0.5, 0.5, 0.8, 0.8, 0.8, 0.8, 0.8, 0.8, 0.8, 0.8, 0.8, 0.8, 0.8, 2.3, 0.9, 0.8, 1.1, 1.1, 1.1, 0.8],
    [0.5, 0.5, 0.5, 0.5, 0.5, 0.5, 0.5, 0.7, 0.8, 0.8, 1.0, 1.1, 1.5, 2.1, 0.8, 0.8, 0.8, 0.8, 1.1, 1.1, 0.9, 0.9, 0.9, 0.8, 0.7],
    [0.5, 0.5, 0.5, 0.5, 0.5, 0.5, 0.5, 0.5, 0.9, 0.8, 0.8, 0.8, 0.8, 0.8, 0.8, 1.1, 2.7, 1.9, 1.5, 1.3, 0.9, 0.8, 0.8, 0.8, 0.8],
    [0.5, 0.5, 0.5, 0.5, 0.5, 0.5, 0.5, 0.7, 0.8, 0.8, 0.8, 0.8, 0.8, 0.8, 0.8, 0.8, 0.8, 0.8, 1.7, 1.1, 0.9, 0.8, 0.8, 0.8, 0.8],
    [0.5, 0.5, 0.5, 0.5, 0.5, 0.5, 0.5, 0.7, 0.8, 0.8, 0.8, 0.8, 0.8, 2.5, 0.8, 0.8, 0.8, 0.8, 1.1, 1.9, 0.9, 0.8, 0.8, 0.8, 0.8],
    [0.5, 0.5, 0.5, 0.5, 0.5, 0.5, 0.5, 0.7, 0.8, 0.8, 0.8, 0.8, 0.8, 0.8, 0.8, 0.8, 0.8, 0.8, 0.8, 0.8, 0.9, 0.8, 0.8, 0.8, 0.8],
    [0.5, 0.5, 0.5, 0.5, 0.5, 0.5, 0.5, 0.7, 0.8, 0.8, 0.8, 0.8, 0.8, 0.8, 0.8, 0.8, 1.9, 0.8, 0.8, 2.9, 0.9, 0.8, 0.8, 0.8, 0.8],
    [0.5, 0.5, 0.5, 0.5, 0.5, 0.5, 0.5, 0.7, 0.8, 0.8, 0.8, 0.8, 0.8, 0.8, 0.8, 0.8, 0.8, 0.8, 0.8, 1.7, 0.9, 0.8, 0.8, 0.8, 0.8],
    [0.5, 0.5, 0.5, 0.5, 0.5, 0.5, 0.5, 0.7, 0.8, 0.8, 0.8, 0.8, 0.8, 1.7, 0.8, 0.8, 0.8, 0.8, 0.8, 2.1, 0.8, 0.8, 0.8, 0.8, 0.8],
    [0.5, 0.5, 0.5, 0.5, 0.5, 0.5, 0.5, 0.7, 0.8, 0.8, 1.9, 0.8, 0.8, 0.8, 0.8, 0.8, 0.8, 0.8, 0.8, 1.4, 0.9, 0.8, 0.8, 0.8, 0.8],
    [0.5, 0.5, 0.5, 0.5, 0.5, 0.5, 0.5, 0.7, 0.8, 0.8, 0.8, 0.8, 0.8, 0.8, 0.8, 0.8, 0.8, 0.8, 1.7, 1.9, 1.3, 1.0, 0.8, 0.8, 0.8],
    [0.5, 0.5, 0.5, 0.5, 0.5, 0.5, 0.5, 0.7, 0.8, 0.8, 0.8, 0.8, 0.8, 1.9, 0.8, 0.8, 0.8, 0.8, 0.8, 1.9, 0.9, 0.8, 0.8, 0.8, 0.8],
    [0.5, 0.5, 0.5, 0.5, 0.5, 0.5, 0.5, 0.7, 0.8, 0.8, 0.8, 0.8, 0.8, 0.8, 0.8, 0.8, 0.8, 0.8, 0.8, 1.9, 0.9, 0.8, 0.8, 0.8, 0.8],
    [0.5, 0.5, 0.5, 0.5, 0.5, 0.5, 0.5, 0.7, 0.8, 0.8, 0.8, 0.8, 0.8, 0.8, 0.8, 0.8, 0.8, 0.8, 0.8, 2.3, 0.9, 0.8, 0.8, 0.8, 0.8],
    [0.5, 0.5, 0.5, 0.5, 0.5, 0.5, 0.5, 0.7, 0.8, 0.8, 0.8, 0.8, 1.9, 0.8, 0.8, 0.8, 0.8, 0.8, 0.8, 1.9, 0.9, 0.8, 0.8, 0.8, 0.8],
    [0.5, 0.5, 0.5, 0.5, 0.5, 0.5, 0.5, 0.7, 0.8, 0.8, 0.8, 1.5, 1.1, 0.8, 0.8, 0.8, 0.8, 0.8, 0.8, 1.9, 0.9, 0.8, 0.8, 0.8, 0.8],
    [0.5, 0.5, 0.5, 0.5, 0.5, 0.5, 0.5, 0.7, 0.8, 1.1, 1.9, 0.8, 0.8, 0.8, 0.8, 0.8, 0.8, 0.8, 2.3, 1.9, 0.9, 0.8, 0.8, 0.8, 0.8],
    [0.5, 0.5, 0.5, 0.5, 0.5, 0.5, 0.5, 0.7, 0.8, 0.8, 0.8, 0.8, 0.8, 0.8, 0.8, 0.8, 0.8, 0.8, 0.8, 0.8, 1.9, 1.0, 0.8, 0.8, 0.8],
]

# extra load (salmon, down), kW, hours 5..21 - only two days
extra_load = {
    "2025-08-05": [0, 0, 0, 0, 0, 0, 2.0, 3.5, 3.5, 4.3, 0, 0, 0, 0, 0, 0, 0],
    "2025-08-15": [0, 0, 0, 0, 0, 0, 0.5, 3.5, 0, 0, 0, 0, 0, 0, 0, 0, 0],
}

# battery charge (light blue, down), kW, hours 5..21
batt_in = [
    [0, 0, 0.4, 0.5, 0.6, 0.8, 0.5, 0.6, 0.6, 0.7, 0.4, 0.7, 2.1, 2.9, 0, 0, 0],
    [0, 0, 0, 0.3, 0.9, 1.1, 2.3, 1.5, 0, 0, 0, 0, 0, 0, 0, 0, 0],
    [0, 0, 0, 1.1, 1.5, 2.9, 3.1, 0, 0, 0, 0, 0, 0, 0, 0, 0, 0],
    [0, 0, 0, 0.3, 0.7, 2.1, 1.1, 0.9, 1.2, 0.7, 0.4, 0.9, 0, 0, 0, 0, 0],
    [0, 0, 0.3, 1.5, 2.1, 2.8, 1.2, 0.8, 1.2, 0, 0, 0, 0, 0, 0, 0, 0],
    [0, 0, 0, 0.5, 1.1, 1.9, 0, 0, 0, 0, 0, 0, 0, 0, 0, 0, 0],
    [0, 0, 0, 0.3, 1.5, 2.7, 3.5, 0, 0, 0, 0, 0, 0, 0, 0, 0, 0],
    [0, 0, 0.3, 1.1, 2.1, 3.1, 0, 0, 0, 0, 0, 0, 0, 0, 0, 0, 0],
    [0, 0, 0, 0.5, 0.7, 2.7, 3.1, 0, 0, 0, 0, 0, 0, 0, 0, 0, 0],
    [0, 0, 0, 0.7, 1.9, 3.1, 0, 0, 0, 0, 0, 0, 0, 0, 0, 0, 0],
    [0, 0, 0, 0.7, 1.5, 2.7, 3.1, 0, 0, 0, 0, 0, 0, 0, 0, 0, 0],
    [0, 0, 0, 0.3, 1.1, 1.9, 2.7, 1.5, 0, 0, 0, 0, 0, 0, 0, 0, 0],
    [0, 0, 0.2, 0.7, 1.9, 1.8, 3.5, 2.8, 3.9, 0, 0, 0, 0, 0, 0, 0, 0],
    [0, 0, 0, 0, 0, 0, 0.3, 1.1, 1.5, 1.9, 1.5, 0.7, 0, 0, 0, 0, 0],
    [0, 0, 0, 1.1, 2.1, 2.7, 3.3, 0, 0, 0, 0, 0, 0, 0, 0, 0, 0],
    [0, 0, 0, 0, 0.2, 0.3, 0.5, 0.7, 1.5, 2.1, 2.8, 1.2, 0, 0, 0, 0, 0],
    [0, 0, 0, 0.7, 1.9, 2.7, 3.1, 0, 0, 0, 0, 0, 0, 0, 0, 0, 0],
    [0, 0, 0, 0.4, 0.5, 0.9, 0.7, 0.5, 0.2, 1.1, 1.7, 0.9, 1.1, 0, 0, 0, 0],
    [0, 0, 0, 0.3, 0.7, 1.1, 2.3, 2.1, 1.9, 1.5, 0.2, 0, 0, 0, 0, 0, 0],
    [0, 0, 0, 0, 0, 0.3, 0.3, 3.1, 4.3, 0, 0, 0, 0, 0, 0, 0, 0],
    [0, 0, 0, 0.1, 1.1, 0.7, 0.9, 1.5, 0.7, 1.1, 1.5, 1.9, 0, 0, 0, 0, 0],
    [0, 0, 0, 0.5, 1.1, 1.9, 3.1, 3.9, 0, 0, 0, 0, 0, 0, 0, 0, 0],
    [0, 0, 0, 0.1, 0.7, 0.8, 2.3, 2.7, 0, 0, 0, 0, 0, 0, 0, 0, 0],
    [0, 0, 0, 0.1, 0.5, 1.1, 1.3, 2.1, 3.1, 0, 0, 0, 0, 0, 0, 0, 0],
    [0, 0, 0.1, 0.9, 1.9, 2.7, 3.1, 0, 0, 0, 0, 0, 0, 0, 0, 0, 0],
    [0, 0, 0, 1.1, 0.5, 1.5, 3.1, 1.1, 0.7, 0, 0, 0, 0, 0, 0, 0, 0],
    [0, 0, 0, 1.1, 1.5, 2.3, 2.7, 1.1, 0, 0, 0, 0, 0, 0, 0, 0, 0],
    [0, 0, 0, 1.1, 1.9, 2.7, 3.1, 0, 0, 0, 0, 0, 0, 0, 0, 0, 0],
    [0, 0, 0, 0.1, 0.3, 0, 0, 0.4, 3.1, 1.9, 1.5, 1.5, 1.1, 1.9, 0, 0, 0],
    [0, 0, 0, 1.5, 2.6, 1.8, 2.7, 0, 0, 0, 0, 0, 0, 0, 0, 0, 0],
    [0, 0, 0, 1.1, 2.3, 2.7, 2.9, 3.1, 0, 0, 0, 0, 0, 0, 0, 0, 0],
]

# grid export (orange, down), kW, hours 5..21
grid_out = [
    [0, 0, 0, 0, 0.2, 0, 0, 0, 0, 0, 0, 0, 0, 0.1, 0, 0, 0],
    [0, 0, 0, 0, 0, 0, 0.6, 1.0, 1.5, 2.7, 3.5, 1.5, 1.9, 1.5, 0.4, 0.2, 0],
    [0, 0, 0, 0, 0, 0, 1.0, 3.1, 1.5, 0.9, 1.5, 1.5, 1.9, 1.6, 0, 0, 0],
    [0, 0, 0, 0, 0, 0.8, 0, 0, 0, 0, 0, 1.0, 1.1, 1.5, 1.9, 0, 0],
    [0, 0, 0, 0, 0.6, 2.0, 1.4, 1.8, 1.2, 0.8, 5.1, 4.7, 2.7, 2.3, 0.9, 0, 0],
    [0, 0, 0, 0, 0, 0.2, 2.3, 4.7, 5.9, 5.7, 3.9, 3.1, 1.9, 0.5, 0, 0, 0],
    [0, 0, 0, 0, 0, 0, 0.4, 3.1, 3.5, 5.1, 4.7, 2.4, 2.1, 1.1, 0, 0, 0],
    [0, 0, 0, 0.2, 0.2, 0.4, 4.4, 3.7, 5.2, 5.1, 5.5, 4.3, 2.7, 1.1, 0, 0, 0],
    [0, 0, 0, 0, 0, 0.2, 0.4, 5.1, 5.5, 5.9, 5.5, 4.3, 2.7, 1.5, 0, 0, 0],
    [0, 0, 0, 0, 0, 0.2, 4.3, 5.1, 5.7, 6.1, 5.1, 3.9, 2.1, 1.2, 0, 0, 0],
    [0, 0, 0, 0, 0, 0, 0.4, 4.0, 4.4, 4.7, 3.7, 3.5, 1.5, 0.5, 0, 0, 0],
    [0, 0, 0, 0, 0, 0.2, 0.2, 1.0, 5.1, 5.7, 5.5, 4.3, 3.1, 1.5, 0, 0, 0],
    [0, 0, 0, 0, 0, 0, 0, 0, 0.4, 4.3, 4.5, 1.9, 0, 0, 0, 0, 0],
    [0, 0, 0.1, 1.1, 2.1, 2.9, 3.2, 1.8, 2.4, 1.6, 1.6, 2.0, 0.5, 0, 0, 0, 0],
    [0, 0, 0, 0, 0, 0, 0.2, 0.2, 4.2, 5.5, 5.1, 4.3, 2.5, 0.8, 0, 0, 0],
    [0, 0, 0, 0, 0, 0, 0, 0, 0, 0.2, 0, 0, 2.0, 1.6, 0.6, 0, 0],
    [0, 0, 0, 0, 0, 0, 0.4, 4.7, 5.5, 5.7, 5.1, 4.1, 2.7, 1.2, 0, 0, 0],
    [0, 0, 0, 0, 0, 0, 0, 0, 0, 0, 0, 0, 0, 0, 0, 0, 0],
    [0, 0, 0, 0, 0, 0, 0, 0, 0, 0.8, 1.3, 3.5, 2.5, 1.5, 0.3, 0, 0],
    [0, 0, 0, 0, 0, 0, 0, 0, 1.4, 3.4, 3.1, 1.6, 1.9, 1.1, 0, 0, 0],
    [0, 0, 0, 0, 0, 0, 0, 0, 0, 0, 0, 0, 0.7, 1.1, 0, 0, 0],
    [0, 0, 0, 0, 0, 0, 0, 0.4, 2.5, 4.3, 4.7, 3.1, 0.7, 0, 0, 0, 0],
    [0, 0, 0, 0, 0, 0, 0, 0, 1.1, 1.9, 1.1, 0.3, 0, 0, 0, 0, 0],
    [0, 0, 0, 0, 0, 0, 0, 0, 0, 2.3, 1.5, 0.9, 0.5, 0, 0, 0, 0],
    [0, 0, 0, 0, 0, 0, 0, 4.3, 4.0, 5.5, 5.1, 4.1, 2.7, 1.5, 0, 0, 0],
    [0, 0, 0, 0, 0, 0, 0, 0, 0, 3.5, 3.9, 3.1, 1.9, 1.1, 0, 0, 0],
    [0, 0, 0, 0, 0, 0, 0, 0.4, 4.1, 3.1, 1.7, 1.1, 0.3, 0, 0, 0, 0],
    [0, 0, 0, 0, 0, 0.4, 1.2, 4.0, 5.5, 3.1, 3.9, 2.1, 1.5, 0.3, 0, 0, 0],
    [0, 0, 0, 0, 0, 0, 0, 0, 0.8, 0, 0, 0, 0, 0, 0, 0, 0],
    [0, 0, 0, 0, 0, 0, 1.2, 5.1, 3.5, 2.3, 2.7, 1.1, 0, 0, 0, 0, 0],
    [0, 0, 0, 0, 0, 0.4, 1.0, 1.6, 5.9, 5.1, 3.5, 1.9, 1.1, 0.5, 0, 0, 0],
]

# colours
c_yellow = "#ffff4d"
c_orange = "#ffbf4d"
c_blue = "#a9dcee"
c_red = "#ff4d4d"
c_salmon = "#ff917d"
c_soc = "#44c6f7"
c_frame = "#cccccc"

hours = np.arange(25)


def daytime(vals):
    # daytime lists cover 05:00-21:00, zero outside
    arr = np.zeros(25)
    arr[5:22] = vals
    return arr


fig = plt.figure(figsize=(21.5, 16.8), dpi=100)
zeros = [0] * 25

for i, d in enumerate(dates):
    slot = i + 4  # 1 Aug 2025 is a Friday
    row, col = slot // 7, slot % 7
    ax = fig.add_axes([col / 7, 1 - (row + 1) / 5, 1 / 7, 1 / 5])

    # sources, stacked upwards
    y1 = daytime(pv_west[i])
    y2 = y1 + daytime(pv_east[i])
    y3 = y2 + np.array(batt_out[i])
    y4 = y3 + np.array(grid_in.get(d, zeros))
    ax.fill_between(hours, y3, y4, color=c_red, lw=0)
    ax.fill_between(hours, y2, y3, color=c_blue, lw=0)
    ax.fill_between(hours, y1, y2, color=c_orange, lw=0)
    ax.fill_between(hours, 0, y1, color=c_yellow, lw=0)

    # sinks, stacked downwards
    b1 = -np.array(house[i])
    b2 = b1 - daytime(extra_load.get(d, [0] * 17))
    b3 = b2 - daytime(batt_in[i])
    b4 = b3 - daytime(grid_out[i])
    ax.fill_between(hours, b3, b4, color=c_orange, lw=0)
    ax.fill_between(hours, b2, b3, color=c_blue, lw=0)
    ax.fill_between(hours, b1, b2, color=c_salmon, lw=0)
    ax.fill_between(hours, 0, b1, color=c_red, lw=0)

    ax.set_xlim(0, 24)
    ax.set_ylim(-10, 10)
    ax.set_xticks([])
    ax.set_yticks([])
    for s in ax.spines.values():
        s.set_color(c_frame)
        s.set_linewidth(1.2)

    ax2 = ax.twinx()
    ax2.plot(hours, soc[i], color=c_soc, lw=1.1)
    ax2.set_ylim(0, 109)
    ax2.set_xlim(0, 24)
    ax2.set_yticks([])
    for s in ax2.spines.values():
        s.set_visible(False)

    ax.text(0.022, 0.968, d, transform=ax.transAxes, ha="left", va="top",
            fontsize=14, color="black")

fig.savefig("out.png", dpi=100)
